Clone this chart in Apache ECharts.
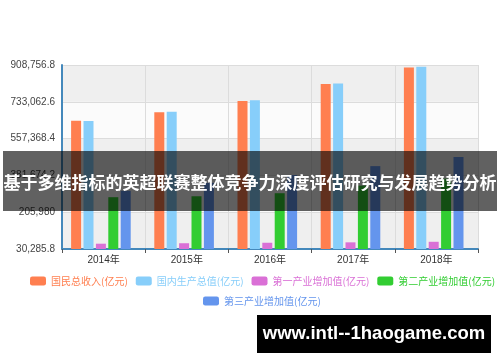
<!DOCTYPE html>
<html>
<head>
	<title>英超联赛整体竞争力</title>
	<meta charset="utf-8" />
	<script src="https://cdn.jsdelivr.net/npm/echarts@6/dist/echarts.min.js"></script>
	<style>
		body { margin: 0; background: #fff; }
		#e-chart { width: 500px; height: 362px; }
	</style>
</head>
<body>
<div id="e-chart"></div>
<script type="text/javascript">
	// 年份与各项指标(亿元)
	var years = ['2014年', '2015年', '2016年', '2017年', '2018年'];
	var seriesNames = ['国民总收入(亿元)', '国内生产总值(亿元)', '第一产业增加值(亿元)', '第二产业增加值(亿元)', '第三产业增加值(亿元)'];
	var gni = [642097.6, 683390.5, 737074.0, 818461.0, 896915.6];
	var gdp = [641280.6, 685992.9, 740060.8, 820754.3, 900309.5];
	var primary = [55626.3, 57774.6, 60139.2, 62099.5, 64734.0];
	var secondary = [277571.8, 282040.3, 296547.7, 332742.7, 366000.9];
	var tertiary = [308082.5, 346178.0, 383373.9, 425912.1, 469574.6];
	var yTicks = [30285.8, 205980, 381674.2, 557368.4, 733062.6, 908756.8];

	var colors = ['#ff7f50', '#87cefa', '#da70d6', '#32cd32', '#6495ed'];
	var allData = [gni, gdp, primary, secondary, tertiary];
	var fontCJK = "'Liberation Sans', 'Noto Sans CJK SC', sans-serif";

	// 柱子画在第二个 grid 上(略微左移)，坐标轴画在第一个 grid 上
	var series = [];
	for (var i = 0; i < allData.length; i++) {
		series.push({
			name: seriesNames[i],
			type: 'bar',
			xAxisIndex: 1,
			yAxisIndex: 1,
			barWidth: 10,
			barGap: '24%',
			itemStyle: { color: colors[i] },
			data: allData[i]
		});
	}

	function legendItems(from, to) {
		var out = [];
		for (var i = from; i < to; i++) {
			out.push({ name: seriesNames[i], textStyle: { color: colors[i] } });
		}
		return out;
	}

	var legendBase = {
		orient: 'horizontal',
		padding: 0,
		itemWidth: 16,
		itemHeight: 9,
		itemGap: 8,
		icon: 'roundRect',
		textStyle: { fontSize: 10, fontFamily: "'Noto Sans CJK SC', sans-serif" }
	};

	var yRange = {
		type: 'value',
		min: yTicks[0],
		max: yTicks[yTicks.length - 1],
		interval: yTicks[1] - yTicks[0]
	};

	var myChart = echarts.init(document.getElementById('e-chart'));
	var option = {
		animation: false,
		color: colors,
		textStyle: { fontFamily: fontCJK },
		grid: [
			{ left: 62, right: 22, top: 65, bottom: 113 },
			{ left: 59.3, right: 24.7, top: 65, bottom: 113 }
		],
		legend: [
			Object.assign({}, legendBase, { left: 30, top: 276, data: legendItems(0, 4) }),
			Object.assign({}, legendBase, { left: 203, top: 296, data: legendItems(4, 5) })
		],
		xAxis: [
			{
				type: 'category',
				gridIndex: 0,
				data: years,
				axisLine: { lineStyle: { color: '#4488bb', width: 2 } },
				axisTick: { show: true, length: 4, lineStyle: { color: '#555' } },
				axisLabel: { fontSize: 10, color: '#333', margin: 6 },
				splitLine: { show: true, lineStyle: { color: '#dcdcdc' } }
			},
			{
				type: 'category',
				gridIndex: 1,
				data: years,
				show: false
			}
		],
		yAxis: [
			Object.assign({}, yRange, {
				gridIndex: 0,
				axisLine: { show: true, lineStyle: { color: '#4488bb', width: 2 } },
				axisTick: { show: false },
				axisLabel: {
					fontSize: 10, color: '#444', margin: 7,
					formatter: function (v) {
						return (Math.round(v * 10) / 10).toLocaleString('en-US', { maximumFractionDigits: 1 });
					}
				},
				splitLine: { show: true, lineStyle: { color: '#dcdcdc' } },
				splitArea: { show: true, areaStyle: { color: ['#efefef', '#fbfbfb'] } }
			}),
			Object.assign({}, yRange, { gridIndex: 1, show: false, splitLine: { show: false } })
		],
		graphic: [
			{
				type: 'rect', z: 100,
				shape: { x: 3, y: 151, width: 494, height: 60 },
				style: { fill: 'rgba(0,0,0,0.62)' }
			},
			{
				type: 'text', z: 101, x: 250, y: 183,
				style: {
					text: '基于多维指标的英超联赛整体竞争力深度评估研究与发展趋势分析',
					fill: '#fff', align: 'center', verticalAlign: 'middle',
					fontSize: 17, fontWeight: 'bold', fontFamily: "'Noto Sans CJK SC'"
				}
			},
			{
				type: 'rect', z: 100,
				shape: { x: 257, y: 315, width: 234, height: 38 },
				style: { fill: '#000' }
			},
			{
				type: 'text', z: 101, x: 374, y: 334,
				style: {
					text: 'www.intl--1haogame.com',
					fill: '#fff', align: 'center', verticalAlign: 'middle',
					fontSize: 18.5, fontWeight: 'bold', fontFamily: "'Liberation Sans'"
				}
			}
		],
		series: series
	};
	myChart.setOption(option);
</script>
</body>
</html>
